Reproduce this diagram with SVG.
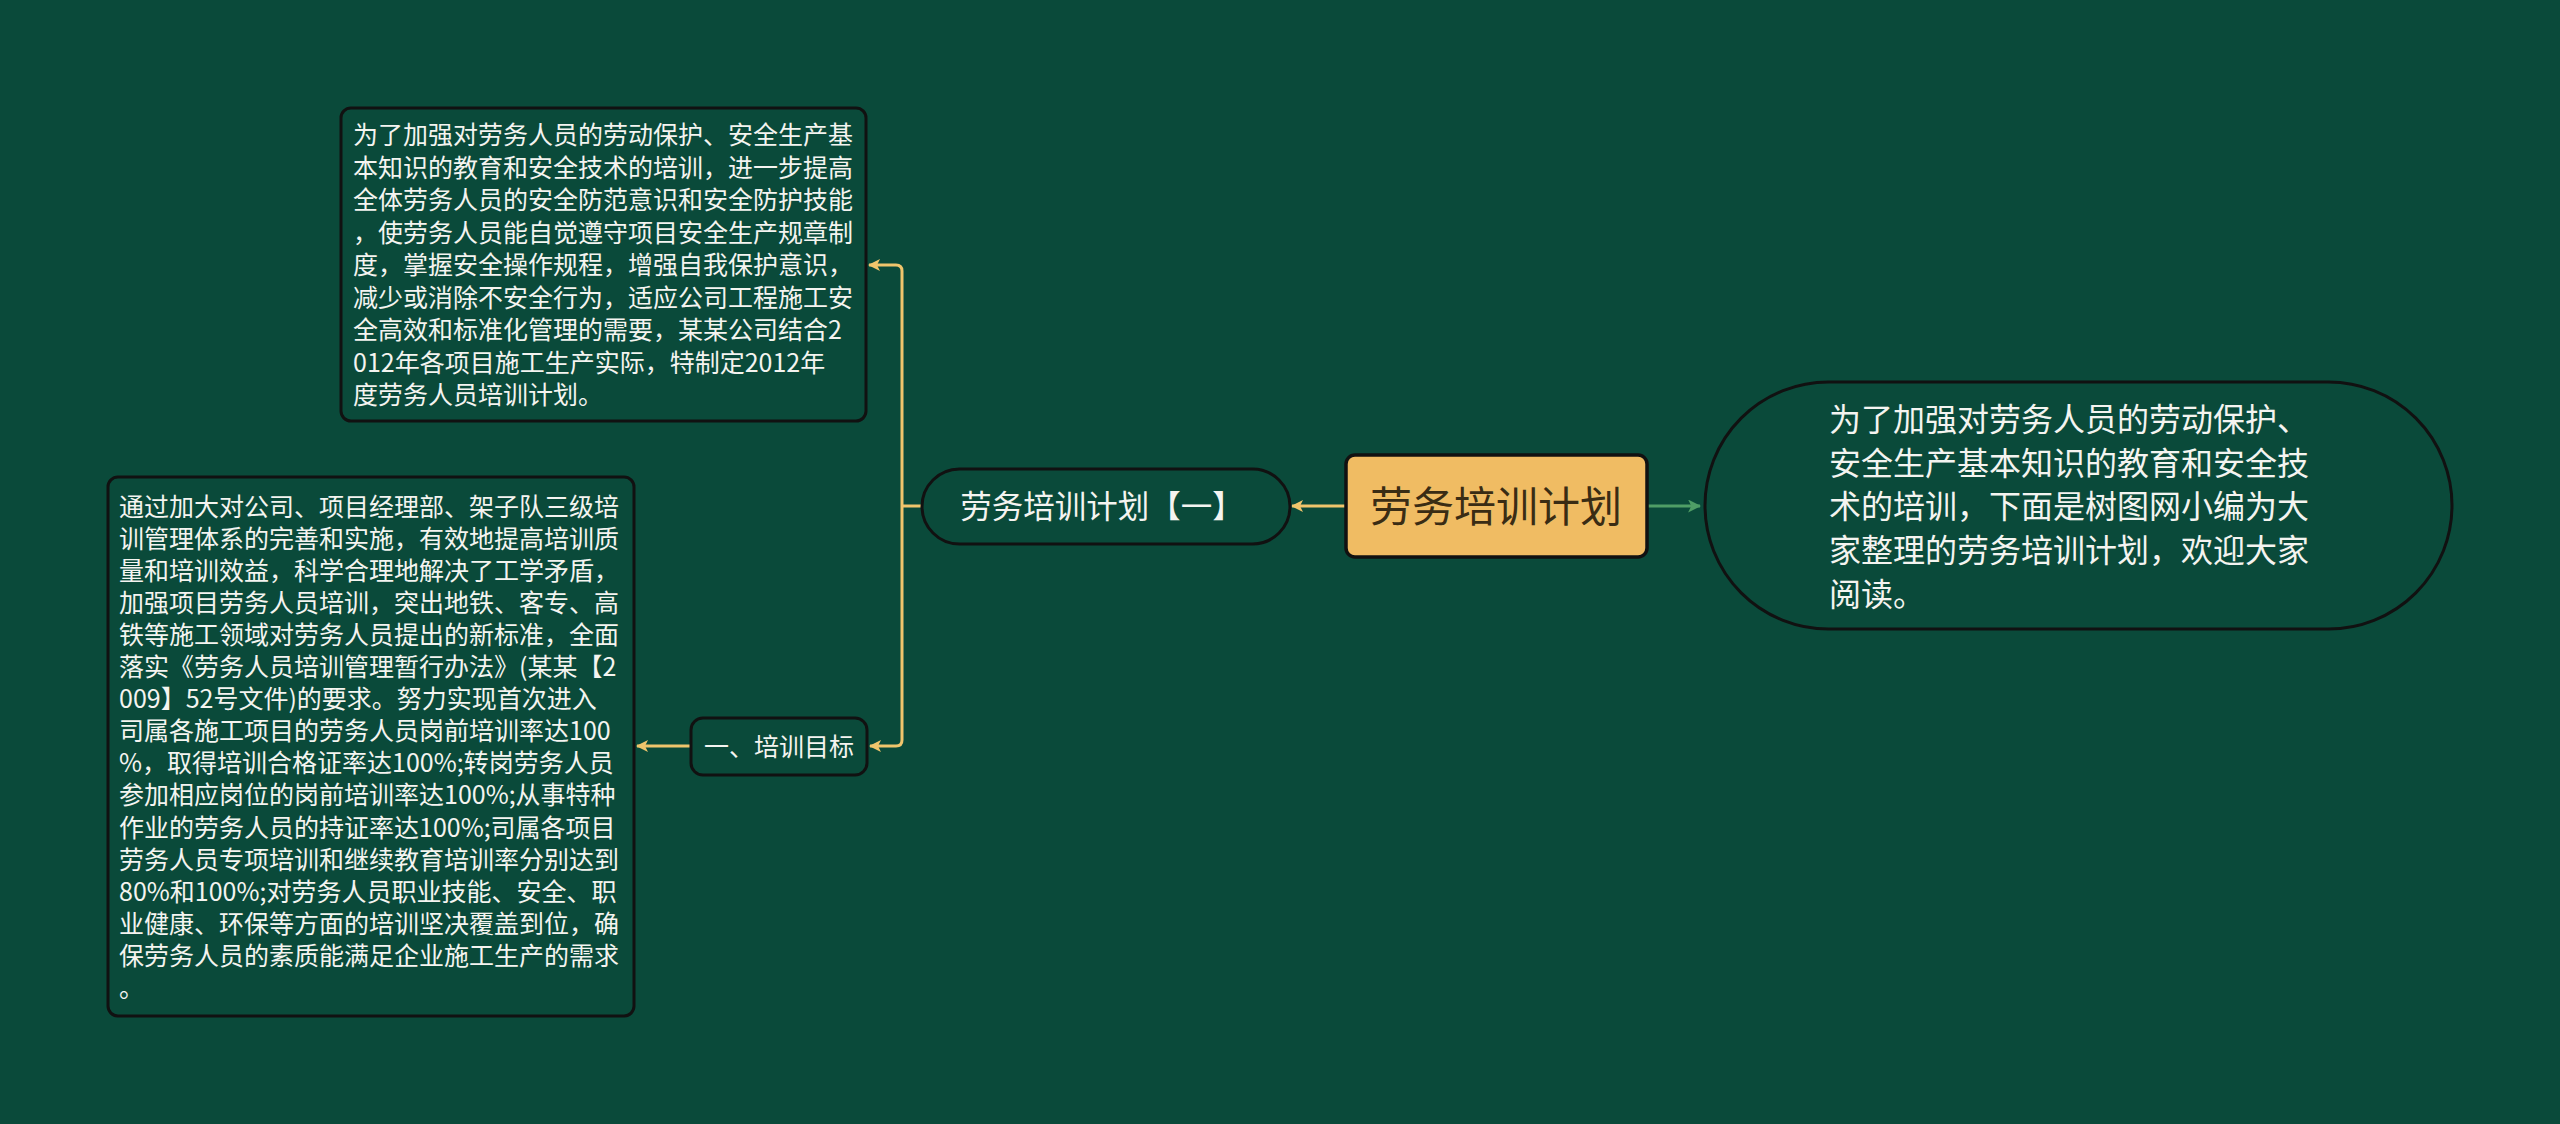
<svg xmlns="http://www.w3.org/2000/svg" width="2560" height="1124" viewBox="0 0 2560 1124">
<defs>
<style>
.bg{fill:#0a4a3a}
.box{fill:#0a4a3a;stroke:#111;stroke-width:3}
.root{fill:#f0bc63;stroke:#111;stroke-width:3.5}
.t{font-family:"Noto Sans CJK SC","Noto Sans",sans-serif;fill:#f4f4f0}
.rt{font-family:"Noto Sans CJK SC","Noto Sans",sans-serif;fill:#3a2c14}
.y{fill:none;stroke:#f0c56c;stroke-width:3}
.g{fill:none;stroke:#4f9e66;stroke-width:3}
</style>
<marker id="ay" viewBox="0 0 12 12" refX="11" refY="6" markerWidth="12" markerHeight="12" markerUnits="userSpaceOnUse" orient="auto">
<path d="M0,0 L12,6 L0,12 L3,6 Z" fill="#f0c56c"/>
</marker>
<marker id="ag" viewBox="0 0 12 12" refX="11" refY="6" markerWidth="13" markerHeight="13" markerUnits="userSpaceOnUse" orient="auto">
<path d="M0,0 L12,6 L0,12 L3,6 Z" fill="#4f9e66"/>
</marker>
</defs>
<rect class="bg" x="0" y="0" width="2560" height="1124"/>
<g id="connectors">
<path class="g" d="M1647,506 L1700,506" marker-end="url(#ag)"/>
<path class="y" d="M1346,506 L1292,506" marker-end="url(#ay)"/>
<path class="y" d="M922,506 L902,506"/>
<path class="y" d="M902,500 L902,271 Q902,265 896,265 L869,265" marker-end="url(#ay)"/>
<path class="y" d="M902,500 L902,740 Q902,746 896,746 L870,746" marker-end="url(#ay)"/>
<path class="y" d="M691,746 L637,746" marker-end="url(#ay)"/>
</g>
<g id="root">
<rect class="root" x="1346" y="455" width="301" height="102" rx="9"/>
<text class="rt" x="1496" y="522" font-size="42" text-anchor="middle">劳务培训计划</text>
</g>
<g id="intro">
<rect class="box" x="1705" y="382" width="747" height="247" rx="123.5"/>
<text class="t" font-size="32">
<tspan x="1829" y="430.7">为了加强对劳务人员的劳动保护、</tspan>
<tspan x="1829" y="474.5">安全生产基本知识的教育和安全技</tspan>
<tspan x="1829" y="518.2">术的培训，下面是树图网小编为大</tspan>
<tspan x="1829" y="562">家整理的劳务培训计划，欢迎大家</tspan>
<tspan x="1829" y="605.7">阅读。</tspan>
</text>
</g>
<g id="plan1">
<rect class="box" x="922" y="469" width="368" height="75" rx="37.5"/>
<text class="t" x="1102" y="517.5" font-size="31.5" text-anchor="middle">劳务培训计划【一】</text>
</g>
<g id="desc1">
<rect class="box" x="341" y="108" width="525" height="313" rx="10"/>
<text class="t" font-size="25">
<tspan x="353" y="144">为了加强对劳务人员的劳动保护、安全生产基</tspan>
<tspan x="353" y="176.5">本知识的教育和安全技术的培训，进一步提高</tspan>
<tspan x="353" y="209">全体劳务人员的安全防范意识和安全防护技能</tspan>
<tspan x="353" y="241.5">，使劳务人员能自觉遵守项目安全生产规章制</tspan>
<tspan x="353" y="274">度，掌握安全操作规程，增强自我保护意识，</tspan>
<tspan x="353" y="306.5">减少或消除不安全行为，适应公司工程施工安</tspan>
<tspan x="353" y="339">全高效和标准化管理的需要，某某公司结合2</tspan>
<tspan x="353" y="371.5">012年各项目施工生产实际，特制定2012年</tspan>
<tspan x="353" y="404">度劳务人员培训计划。</tspan>
</text>
</g>
<g id="goal">
<rect class="box" x="691" y="718" width="176" height="57" rx="12"/>
<text class="t" x="779" y="755.5" font-size="25" text-anchor="middle">一、培训目标</text>
</g>
<g id="desc2">
<rect class="box" x="108" y="477" width="526" height="539" rx="10"/>
<text class="t" font-size="25">
<tspan x="119" y="515.5">通过加大对公司、项目经理部、架子队三级培</tspan>
<tspan x="119" y="547.6">训管理体系的完善和实施，有效地提高培训质</tspan>
<tspan x="119" y="579.7">量和培训效益，科学合理地解决了工学矛盾，</tspan>
<tspan x="119" y="611.8">加强项目劳务人员培训，突出地铁、客专、高</tspan>
<tspan x="119" y="643.9">铁等施工领域对劳务人员提出的新标准，全面</tspan>
<tspan x="119" y="676">落实《劳务人员培训管理暂行办法》(某某【2</tspan>
<tspan x="119" y="708.1">009】52号文件)的要求。努力实现首次进入</tspan>
<tspan x="119" y="740.2">司属各施工项目的劳务人员岗前培训率达100</tspan>
<tspan x="119" y="772.3">%，取得培训合格证率达100%;转岗劳务人员</tspan>
<tspan x="119" y="804.4">参加相应岗位的岗前培训率达100%;从事特种</tspan>
<tspan x="119" y="836.5">作业的劳务人员的持证率达100%;司属各项目</tspan>
<tspan x="119" y="868.6">劳务人员专项培训和继续教育培训率分别达到</tspan>
<tspan x="119" y="900.7">80%和100%;对劳务人员职业技能、安全、职</tspan>
<tspan x="119" y="932.8">业健康、环保等方面的培训坚决覆盖到位，确</tspan>
<tspan x="119" y="964.9">保劳务人员的素质能满足企业施工生产的需求</tspan>
<tspan x="119" y="997">。</tspan>
</text>
</g>
</svg>
